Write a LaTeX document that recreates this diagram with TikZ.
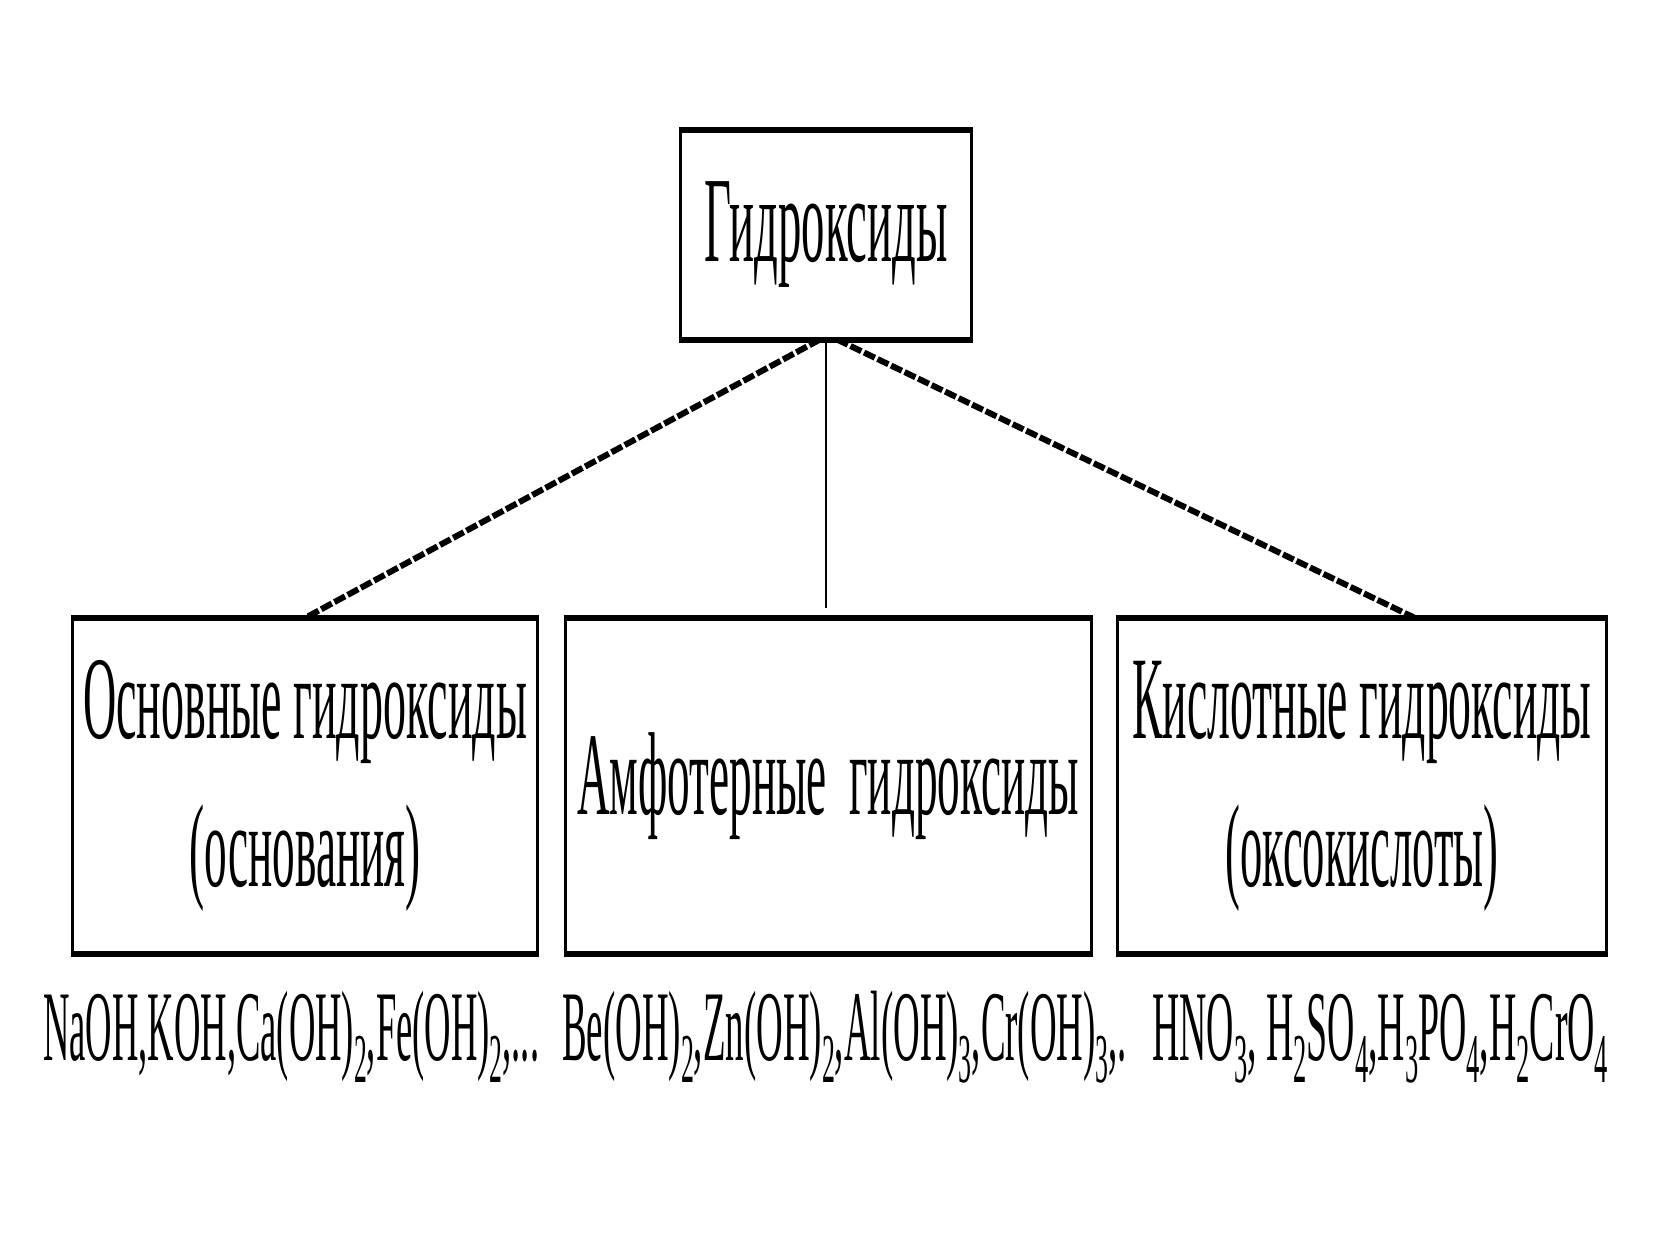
\documentclass[tikz,border=0pt]{standalone}
\usepackage{fontspec}
\setmainfont{Liberation Serif}
\usepackage{graphicx}
\newcommand\squeeze[2]{\resizebox{#1pt}{\height}{#2}}
\newcommand\sbs[1]{\raisebox{-0.22em}{\scalebox{0.7}{#1}}}

\begin{document}
\begin{tikzpicture}
  [x=1pt,y=-1pt,
   klass/.style={draw,line width=3pt,rectangle,inner sep=0pt,align=center,
     font=\fontsize{118}{148}\selectfont},
   rim/.style={line width=6pt},
   link/.style={line width=6pt,dash pattern=on 12pt off 3pt},
   formula/.style={anchor=base west,inner sep=0pt,font=\fontsize{100}{110}\selectfont}]
  \useasboundingbox (0,0) rectangle (1680,1260);
  \node[klass,minimum width=291pt,minimum height=206pt,font=\fontsize{122}{140}\selectfont]
    (gid) at (826,235) {\squeeze{243}{Гидроксиды}};
  \node[klass,minimum width=465pt,minimum height=333pt] (osn) at (305,786)
    {\squeeze{444}{Основные гидроксиды}\\ \squeeze{231}{(основания)}};
  \node[klass,minimum width=526pt,minimum height=333pt] (amf) at (828,786)
    {\squeeze{502}{Амфотерные~~гидроксиды}};
  \node[klass,minimum width=489pt,minimum height=333pt] (kis) at (1362,786)
    {\squeeze{459}{Кислотные гидроксиды}\\ \squeeze{273}{(оксокислоты)}};
  \foreach \n in {gid,osn,amf,kis}
    \draw[rim] (\n.north west) -- (\n.north east) (\n.south west) -- (\n.south east);
  % connectors
  \coordinate (amfend) at (826,608);
  \draw[line width=2pt] (gid.south) -- (amfend);
  \draw[link] ([xshift=-6pt]gid.south) -- (osn.north);
  \draw[link] ([xshift=11pt]gid.south) -- ([xshift=53pt]kis.north);
  % examples
  \node[formula] (ex1) at (43,1060)
    {\squeeze{496}{NaOH,KOH,Ca(OH)\sbs{2},Fe(OH)\sbs{2},...}};
  \node[formula] (ex2) at (562,1060)
    {\squeeze{565}{Be(OH)\sbs{2},Zn(OH)\sbs{2},Al(OH)\sbs{3},Cr(OH)\sbs{3},.}};
  \node[formula] (ex3) at (1152,1060)
    {\squeeze{456}{HNO\sbs{3}, H\sbs{2}SO\sbs{4},H\sbs{3}PO\sbs{4},H\sbs{2}CrO\sbs{4}}};
\end{tikzpicture}
\end{document}
